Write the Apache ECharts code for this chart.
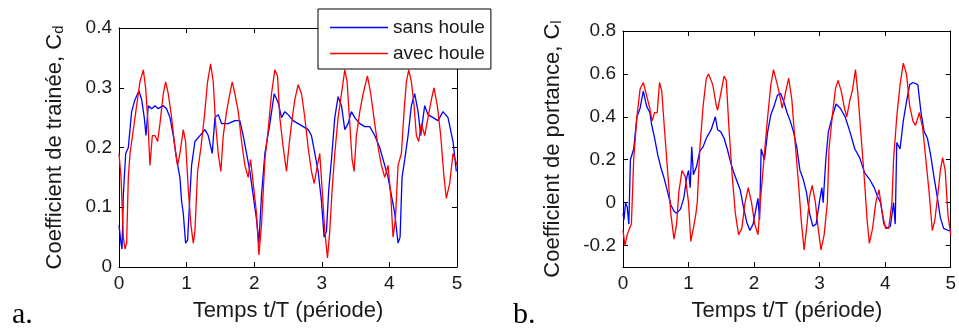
<!DOCTYPE html>
<html>
<head>
<meta charset="utf-8">
<script src="https://cdn.jsdelivr.net/npm/echarts@6/dist/echarts.min.js"></script>
<style>
html, body { margin: 0; padding: 0; background: #fff; }
#chart { width: 959px; height: 329px; }
</style>
</head>
<body>
<div id="chart"></div>
<script>
// ticks
var timeTicks = [0, 1, 2, 3, 4, 5];
var cdTicks = [0, 0.1, 0.2, 0.3, 0.4];
var clTicks = [-0.2, 0, 0.2, 0.4, 0.6, 0.8];

// a. coefficient de trainee  [t/T, Cd]
var cdSans = [[0,0.07],[0.030,0.04],[0.045,0.03],[0.064,0.12],[0.099,0.19],[0.138,0.20],[0.187,0.26],[0.236,0.28],[0.296,0.295],[0.335,0.28],[0.374,0.25],[0.399,0.22],[0.433,0.27],[0.483,0.265],[0.532,0.27],[0.581,0.265],[0.655,0.27],[0.704,0.265],[0.754,0.25],[0.803,0.22],[0.852,0.18],[0.901,0.15],[0.926,0.11],[0.951,0.09],[0.985,0.04],[1.015,0.045],[1.049,0.12],[1.074,0.17],[1.123,0.21],[1.197,0.22],[1.271,0.23],[1.320,0.22],[1.379,0.19],[1.419,0.25],[1.468,0.255],[1.517,0.24],[1.616,0.24],[1.714,0.245],[1.788,0.245],[1.837,0.22],[1.887,0.19],[1.936,0.16],[1.985,0.12],[2.034,0.08],[2.069,0.04],[2.108,0.12],[2.158,0.19],[2.232,0.24],[2.296,0.29],[2.355,0.275],[2.404,0.25],[2.453,0.26],[2.502,0.255],[2.576,0.245],[2.650,0.24],[2.724,0.235],[2.798,0.23],[2.847,0.22],[2.897,0.19],[2.946,0.16],[2.995,0.11],[3.034,0.05],[3.069,0.06],[3.103,0.13],[3.143,0.18],[3.192,0.25],[3.241,0.285],[3.291,0.27],[3.340,0.23],[3.389,0.24],[3.438,0.26],[3.488,0.25],[3.562,0.24],[3.635,0.235],[3.709,0.235],[3.783,0.22],[3.857,0.20],[3.931,0.17],[3.980,0.15],[4.030,0.12],[4.079,0.09],[4.128,0.04],[4.158,0.05],[4.187,0.15],[4.227,0.18],[4.276,0.22],[4.325,0.27],[4.374,0.29],[4.424,0.26],[4.463,0.22],[4.522,0.27],[4.571,0.255],[4.645,0.25],[4.719,0.245],[4.793,0.26],[4.867,0.25],[4.941,0.21],[4.99,0.16]];
var cdAvec = [[0,0.19],[0.030,0.15],[0.064,0.05],[0.089,0.03],[0.113,0.04],[0.138,0.15],[0.163,0.19],[0.212,0.23],[0.261,0.27],[0.310,0.31],[0.360,0.33],[0.394,0.30],[0.424,0.25],[0.458,0.17],[0.493,0.22],[0.532,0.22],[0.571,0.21],[0.606,0.24],[0.655,0.29],[0.690,0.31],[0.729,0.29],[0.778,0.25],[0.828,0.20],[0.867,0.17],[0.901,0.19],[0.951,0.23],[0.985,0.21],[1.025,0.13],[1.064,0.07],[1.099,0.04],[1.123,0.06],[1.163,0.16],[1.212,0.20],[1.261,0.25],[1.310,0.31],[1.355,0.34],[1.394,0.31],[1.429,0.24],[1.468,0.19],[1.507,0.16],[1.542,0.22],[1.591,0.26],[1.640,0.29],[1.675,0.31],[1.714,0.29],[1.764,0.26],[1.813,0.21],[1.862,0.17],[1.911,0.15],[1.946,0.18],[1.985,0.14],[2.034,0.09],[2.069,0.02],[2.108,0.07],[2.158,0.18],[2.207,0.23],[2.256,0.29],[2.305,0.33],[2.345,0.32],[2.379,0.25],[2.429,0.20],[2.478,0.16],[2.512,0.20],[2.552,0.24],[2.601,0.28],[2.650,0.305],[2.700,0.29],[2.749,0.25],[2.798,0.20],[2.847,0.16],[2.887,0.14],[2.936,0.17],[2.970,0.19],[3.005,0.13],[3.044,0.06],[3.084,0.015],[3.118,0.06],[3.153,0.13],[3.192,0.19],[3.241,0.25],[3.291,0.29],[3.340,0.33],[3.374,0.31],[3.414,0.24],[3.448,0.18],[3.478,0.16],[3.512,0.22],[3.562,0.26],[3.611,0.29],[3.675,0.32],[3.724,0.29],[3.783,0.24],[3.833,0.20],[3.882,0.17],[3.931,0.15],[3.980,0.17],[4.020,0.12],[4.054,0.05],[4.089,0.08],[4.128,0.17],[4.177,0.19],[4.217,0.26],[4.251,0.31],[4.286,0.33],[4.325,0.31],[4.365,0.27],[4.399,0.22],[4.433,0.21],[4.473,0.24],[4.522,0.22],[4.571,0.25],[4.621,0.28],[4.660,0.30],[4.709,0.27],[4.759,0.22],[4.808,0.15],[4.842,0.115],[4.892,0.14],[4.941,0.19],[4.975,0.18],[5,0.17]];

// b. coefficient de portance  [t/T, Cl]
var clSans = [[0,-0.05],[0.015,-0.08],[0.039,0],[0.064,-0.02],[0.089,-0.10],[0.113,0.20],[0.138,0.20],[0.163,0.25],[0.212,0.40],[0.261,0.44],[0.310,0.52],[0.360,0.45],[0.409,0.42],[0.433,0.37],[0.483,0.30],[0.532,0.22],[0.581,0.16],[0.631,0.11],[0.680,0.05],[0.729,-0.01],[0.778,-0.04],[0.818,-0.05],[0.877,-0.03],[0.926,0.02],[0.975,0.12],[1.0,0.15],[1.025,0.07],[1.049,0.26],[1.074,0.13],[1.123,0.17],[1.172,0.24],[1.222,0.26],[1.271,0.30],[1.345,0.34],[1.409,0.40],[1.443,0.34],[1.493,0.33],[1.542,0.30],[1.591,0.25],[1.640,0.19],[1.690,0.14],[1.739,0.10],[1.788,0.06],[1.837,-0.02],[1.887,-0.09],[1.936,-0.13],[1.985,-0.10],[2.034,-0.02],[2.059,0.02],[2.084,-0.08],[2.108,0.25],[2.158,0.20],[2.207,0.33],[2.256,0.41],[2.305,0.45],[2.355,0.50],[2.404,0.51],[2.453,0.47],[2.502,0.42],[2.552,0.38],[2.601,0.33],[2.650,0.26],[2.700,0.15],[2.749,0.11],[2.798,0.05],[2.847,-0.05],[2.897,-0.11],[2.946,-0.10],[2.995,0],[3.034,0.07],[3.054,0],[3.094,0.20],[3.133,0.33],[3.192,0.40],[3.251,0.46],[3.315,0.44],[3.389,0.40],[3.463,0.33],[3.537,0.25],[3.611,0.21],[3.685,0.14],[3.759,0.11],[3.833,0.07],[3.882,0.03],[3.931,0],[3.980,-0.10],[4.030,-0.12],[4.079,-0.11],[4.128,0],[4.153,-0.10],[4.177,0.28],[4.227,0.25],[4.276,0.38],[4.325,0.47],[4.374,0.55],[4.424,0.56],[4.498,0.55],[4.547,0.42],[4.596,0.33],[4.645,0.30],[4.695,0.22],[4.744,0.12],[4.793,0.03],[4.842,-0.07],[4.892,-0.12],[4.966,-0.13],[5,-0.13]];
var clAvec = [[0,-0.13],[0.030,-0.20],[0.064,-0.15],[0.099,-0.12],[0.128,-0.10],[0.163,0.20],[0.212,0.40],[0.261,0.53],[0.310,0.56],[0.360,0.50],[0.409,0.44],[0.443,0.38],[0.483,0.42],[0.522,0.42],[0.557,0.56],[0.591,0.52],[0.631,0.35],[0.680,0.15],[0.729,-0.05],[0.778,-0.17],[0.818,-0.10],[0.852,0.05],[0.901,0.15],[0.951,0.12],[1.0,0],[1.034,-0.18],[1.074,-0.12],[1.113,-0.05],[1.133,0],[1.172,0.25],[1.222,0.45],[1.271,0.58],[1.305,0.60],[1.369,0.55],[1.419,0.46],[1.443,0.43],[1.493,0.51],[1.542,0.59],[1.576,0.57],[1.616,0.35],[1.665,0.13],[1.714,-0.05],[1.764,-0.15],[1.813,-0.12],[1.862,0],[1.911,0.07],[1.961,0],[2.010,-0.10],[2.059,-0.15],[2.108,0.05],[2.158,0.23],[2.207,0.40],[2.256,0.55],[2.296,0.62],[2.355,0.55],[2.404,0.48],[2.429,0.44],[2.478,0.51],[2.527,0.58],[2.576,0.48],[2.626,0.28],[2.675,0.10],[2.724,-0.10],[2.764,-0.22],[2.808,-0.10],[2.847,0.03],[2.887,0.08],[2.936,0],[2.970,-0.10],[3.020,-0.22],[3.069,-0.15],[3.118,0],[3.143,0.25],[3.192,0.40],[3.241,0.53],[3.281,0.57],[3.330,0.52],[3.379,0.44],[3.414,0.40],[3.463,0.48],[3.498,0.52],[3.547,0.62],[3.586,0.50],[3.635,0.30],[3.685,0.10],[3.724,-0.08],[3.759,-0.19],[3.808,-0.12],[3.857,0],[3.906,0.06],[3.956,-0.05],[4.005,-0.12],[4.054,-0.12],[4.103,0],[4.128,0.20],[4.177,0.40],[4.227,0.55],[4.276,0.65],[4.325,0.60],[4.374,0.45],[4.424,0.38],[4.463,0.36],[4.522,0.42],[4.571,0.35],[4.621,0.20],[4.670,0.05],[4.719,-0.13],[4.759,-0.08],[4.808,0.05],[4.842,0.15],[4.877,0.21],[4.916,0.15],[4.956,-0.05],[5,-0.15]];

var FONT = '"Liberation Sans", Arial, sans-serif';
var TXT = '#1a1a1a';
var LEG_ICON = 'path://M0,0H58V1.3H0Z';

function mkX(grid, pos, ticks, name) {
	var main = pos == 'bottom';
	return {
		type : 'value', gridIndex : grid, position : pos,
		min : 0, max : 5,
		name : main ? name : '', nameLocation : 'middle', nameGap : 33,
		nameTextStyle : { fontFamily : FONT, fontSize : 22, color : TXT },
		axisLine : { show : true, onZero : false, lineStyle : { color : '#000', width : 1 } },
		axisTick : { show : true, inside : true, length : 5, customValues : ticks, lineStyle : { color : '#000' } },
		axisLabel : { show : main, customValues : ticks, margin : 7, fontFamily : FONT, fontSize : 19, color : TXT,
			formatter : function(v) { return String(v); } },
		splitLine : { show : false }
	};
}

function mkY(grid, pos, ticks, min, max, name, sub, gap) {
	var main = pos == 'left';
	return {
		type : 'value', gridIndex : grid, position : pos,
		min : min, max : max,
		name : main ? name + '{s|' + sub + '}' : '', nameLocation : 'middle', nameRotate : 90, nameGap : gap,
		nameTextStyle : { fontFamily : FONT, fontSize : 22, color : TXT,
			rich : { s : { fontFamily : FONT, fontSize : 15, color : TXT, verticalAlign : 'bottom', padding : [8, 0, 0, 0] } } },
		axisLine : { show : true, onZero : false, lineStyle : { color : '#000', width : 1 } },
		axisTick : { show : true, inside : true, length : 5, customValues : ticks, lineStyle : { color : '#000' } },
		axisLabel : { show : main, customValues : ticks, margin : 7, fontFamily : FONT, fontSize : 19, color : TXT,
			formatter : function(v) { return String(v); } },
		splitLine : { show : false }
	};
}

function line(name, data, color, xi, yi) {
	return {
		name : name, type : 'line', data : data,
		xAxisIndex : xi, yAxisIndex : yi,
		symbol : 'none', animation : false,
		lineStyle : { color : color, width : 1.3 },
		itemStyle : { color : color }
	};
}

var chart = echarts.init(document.getElementById('chart'));
chart.setOption({
	backgroundColor : '#fff',
	animation : false,
	grid : [
		{ left : 119, top : 28, width : 338, height : 239 },
		{ left : 623, top : 31, width : 336, height : 236 }
	],
	xAxis : [
		mkX(0, 'bottom', timeTicks, 'Temps t/T (période)'),
		mkX(0, 'top', timeTicks),
		mkX(1, 'bottom', timeTicks, 'Temps t/T (période)'),
		mkX(1, 'top', timeTicks)
	],
	yAxis : [
		mkY(0, 'left', cdTicks, 0, 0.4, 'Coefficient de trainée, C', 'd', 53),
		mkY(0, 'right', cdTicks, 0, 0.4),
		mkY(1, 'left', clTicks, -0.3, 0.8, 'Coefficient de portance, C', 'l', 59),
		mkY(1, 'right', clTicks, -0.3, 0.8)
	],
	legend : {
		data : [{ name : 'sans houle', icon : LEG_ICON }, { name : 'avec houle', icon : LEG_ICON }],
		orient : 'vertical', left : 318, top : 9,
		backgroundColor : '#fff', borderColor : '#000', borderWidth : 1, borderRadius : 0,
		padding : [9, 6, 6, 12], itemGap : 7,
		itemWidth : 58, itemHeight : 14,
		textStyle : { fontFamily : FONT, fontSize : 19, color : TXT }
	},
	graphic : [
		{ type : 'text', left : 12, top : 300, style : { text : 'a.', font : '30px "Liberation Serif", serif', fill : '#000' } },
		{ type : 'text', left : 513, top : 300, style : { text : 'b.', font : '30px "Liberation Serif", serif', fill : '#000' } }
	],
	series : [
		line('sans houle', cdSans, '#0000ff', 0, 0),
		line('avec houle', cdAvec, '#ff0000', 0, 0),
		line('sans houle', clSans, '#0000ff', 2, 2),
		line('avec houle', clAvec, '#ff0000', 2, 2)
	]
});
</script>
</body>
</html>
